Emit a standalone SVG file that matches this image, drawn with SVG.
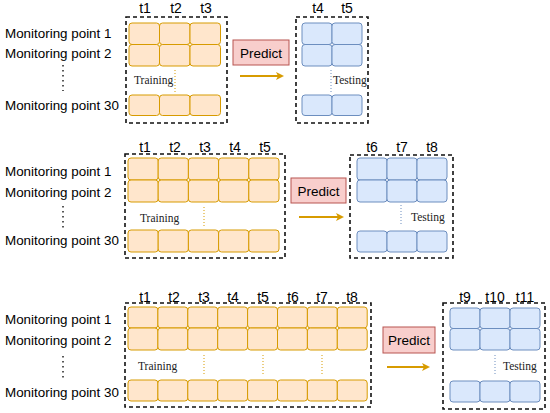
<svg xmlns="http://www.w3.org/2000/svg" width="550" height="413" viewBox="0 0 550 413">
<style>
.lbl{font-family:"Liberation Sans",Arial,sans-serif;font-size:13.4px;fill:#000}
.t{font-family:"Liberation Sans",Arial,sans-serif;font-size:14px;fill:#000;text-anchor:middle}
.ser{font-family:"Liberation Serif","Times New Roman",serif;font-size:11.5px;fill:#222}
.o{fill:#ffe6cc;stroke:#d79b00;stroke-width:1}
.b{fill:#dae8fc;stroke:#6c8ebf;stroke-width:1}
.box{fill:none;stroke:#111;stroke-width:1.6;stroke-dasharray:4 3}
.pred{fill:#f8cecc;stroke:#b85450;stroke-width:1}
.ptxt{font-family:"Liberation Sans",Arial,sans-serif;font-size:13.5px;fill:#000;text-anchor:middle}
.vd{stroke:#222;stroke-width:1.5;stroke-dasharray:1.5 3.5}
.od{stroke:#d79b00;stroke-width:1;stroke-dasharray:1 2}
.bd{stroke:#6c8ebf;stroke-width:1;stroke-dasharray:1 2}
.arr{stroke:#d79b00;stroke-width:2;fill:none}
</style>
<defs>
<marker id="ah" markerWidth="8" markerHeight="8" refX="6" refY="4" orient="auto" markerUnits="userSpaceOnUse">
<path d="M0,0 L8,4 L0,8 L2,4 Z" fill="#d79b00"/>
</marker>
</defs>

<!-- Panel 1 -->
<g id="labels1">
<text class="lbl" x="5" y="38">Monitoring point 1</text>
<text class="lbl" x="5" y="58">Monitoring point 2</text>
<line class="vd" x1="63" y1="65" x2="63" y2="91"/>
<text class="lbl" x="5" y="110">Monitoring point 30</text>
</g>
<g id="train1">
<rect class="box" x="126" y="17" width="101" height="106"/>
<text class="t" x="145" y="13">t1</text><text class="t" x="176" y="13">t2</text><text class="t" x="206" y="13">t3</text>
<rect class="o" x="129" y="23" width="30.5" height="21.5" rx="3"/><rect class="o" x="159.5" y="23" width="30.5" height="21.5" rx="3"/><rect class="o" x="190" y="23" width="30.5" height="21.5" rx="3"/>
<rect class="o" x="129" y="44.5" width="30.5" height="21.5" rx="3"/><rect class="o" x="159.5" y="44.5" width="30.5" height="21.5" rx="3"/><rect class="o" x="190" y="44.5" width="30.5" height="21.5" rx="3"/>
<rect class="o" x="129" y="95" width="30.5" height="20.5" rx="3"/><rect class="o" x="159.5" y="95" width="30.5" height="20.5" rx="3"/><rect class="o" x="190" y="95" width="30.5" height="20.5" rx="3"/>
<text class="ser" x="134" y="84">Training</text>
<line class="od" x1="175" y1="70" x2="175" y2="92"/>
</g>
<g id="predict1">
<rect class="pred" x="233" y="40" width="56" height="25"/>
<text class="ptxt" x="261" y="57.5">Predict</text>
</g>
<g id="test1">
<rect class="box" x="296" y="17" width="72" height="106"/>
<text class="t" x="318" y="13">t4</text><text class="t" x="347" y="13">t5</text>
<rect class="b" x="302" y="23" width="30" height="21.5" rx="3"/><rect class="b" x="332" y="23" width="30" height="21.5" rx="3"/>
<rect class="b" x="302" y="44.5" width="30" height="21.5" rx="3"/><rect class="b" x="332" y="44.5" width="30" height="21.5" rx="3"/>
<rect class="b" x="302" y="95" width="30" height="20.5" rx="3"/><rect class="b" x="332" y="95" width="30" height="20.5" rx="3"/>
<text class="ser" x="333" y="84">Testing</text>
<line class="bd" x1="331" y1="70" x2="331" y2="92"/>
</g>

<!-- Panel 2 -->
<g id="labels2">
<text class="lbl" x="5" y="176">Monitoring point 1</text>
<text class="lbl" x="5" y="197">Monitoring point 2</text>
<line class="vd" x1="63" y1="206" x2="63" y2="229"/>
<text class="lbl" x="5" y="245">Monitoring point 30</text>
</g>
<g id="train2">
<rect class="box" x="125" y="154" width="160" height="104"/>
<text class="t" x="145" y="152">t1</text><text class="t" x="175" y="152">t2</text><text class="t" x="205" y="152">t3</text><text class="t" x="235" y="152">t4</text><text class="t" x="265" y="152">t5</text>
<rect class="o" x="128" y="158" width="30.2" height="22" rx="3"/><rect class="o" x="158.2" y="158" width="30.2" height="22" rx="3"/><rect class="o" x="188.4" y="158" width="30.2" height="22" rx="3"/><rect class="o" x="218.6" y="158" width="30.2" height="22" rx="3"/><rect class="o" x="248.8" y="158" width="30.2" height="22" rx="3"/>
<rect class="o" x="128" y="180" width="30.2" height="22" rx="3"/><rect class="o" x="158.2" y="180" width="30.2" height="22" rx="3"/><rect class="o" x="188.4" y="180" width="30.2" height="22" rx="3"/><rect class="o" x="218.6" y="180" width="30.2" height="22" rx="3"/><rect class="o" x="248.8" y="180" width="30.2" height="22" rx="3"/>
<rect class="o" x="128" y="230" width="30.2" height="22" rx="3"/><rect class="o" x="158.2" y="230" width="30.2" height="22" rx="3"/><rect class="o" x="188.4" y="230" width="30.2" height="22" rx="3"/><rect class="o" x="218.6" y="230" width="30.2" height="22" rx="3"/><rect class="o" x="248.8" y="230" width="30.2" height="22" rx="3"/>
<text class="ser" x="140" y="222">Training</text>
<line class="od" x1="204" y1="207" x2="204" y2="228"/>
</g>
<g id="predict2">
<rect class="pred" x="291" y="178" width="55" height="25"/>
<text class="ptxt" x="318.5" y="195.5">Predict</text>
</g>
<g id="test2">
<rect class="box" x="350" y="155" width="103" height="103"/>
<text class="t" x="372" y="152">t6</text><text class="t" x="402" y="152">t7</text><text class="t" x="432" y="152">t8</text>
<rect class="b" x="357" y="158" width="30" height="22" rx="3"/><rect class="b" x="387" y="158" width="30" height="22" rx="3"/><rect class="b" x="417" y="158" width="30" height="22" rx="3"/>
<rect class="b" x="357" y="180" width="30" height="22" rx="3"/><rect class="b" x="387" y="180" width="30" height="22" rx="3"/><rect class="b" x="417" y="180" width="30" height="22" rx="3"/>
<rect class="b" x="357" y="231" width="30" height="21" rx="3"/><rect class="b" x="387" y="231" width="30" height="21" rx="3"/><rect class="b" x="417" y="231" width="30" height="21" rx="3"/>
<text class="ser" x="411" y="221">Testing</text>
<line class="bd" x1="401" y1="205" x2="401" y2="226"/>
</g>

<!-- Panel 3 -->
<g id="labels3">
<text class="lbl" x="5" y="324">Monitoring point 1</text>
<text class="lbl" x="5" y="345">Monitoring point 2</text>
<line class="vd" x1="63" y1="356" x2="63" y2="379"/>
<text class="lbl" x="5" y="397">Monitoring point 30</text>
</g>
<g id="train3">
<rect class="box" x="125" y="303" width="246" height="104"/>
<text class="t" x="145" y="302">t1</text><text class="t" x="174" y="302">t2</text><text class="t" x="204" y="302">t3</text><text class="t" x="233" y="302">t4</text><text class="t" x="263" y="302">t5</text><text class="t" x="293" y="302">t6</text><text class="t" x="322" y="302">t7</text><text class="t" x="352" y="302">t8</text>
<rect class="o" x="128" y="307" width="29.9" height="21" rx="3"/><rect class="o" x="157.9" y="307" width="29.9" height="21" rx="3"/><rect class="o" x="187.8" y="307" width="29.9" height="21" rx="3"/><rect class="o" x="217.7" y="307" width="29.9" height="21" rx="3"/><rect class="o" x="247.6" y="307" width="29.9" height="21" rx="3"/><rect class="o" x="277.5" y="307" width="29.9" height="21" rx="3"/><rect class="o" x="307.4" y="307" width="29.9" height="21" rx="3"/><rect class="o" x="337.3" y="307" width="29.9" height="21" rx="3"/>
<rect class="o" x="128" y="328" width="29.9" height="22" rx="3"/><rect class="o" x="157.9" y="328" width="29.9" height="22" rx="3"/><rect class="o" x="187.8" y="328" width="29.9" height="22" rx="3"/><rect class="o" x="217.7" y="328" width="29.9" height="22" rx="3"/><rect class="o" x="247.6" y="328" width="29.9" height="22" rx="3"/><rect class="o" x="277.5" y="328" width="29.9" height="22" rx="3"/><rect class="o" x="307.4" y="328" width="29.9" height="22" rx="3"/><rect class="o" x="337.3" y="328" width="29.9" height="22" rx="3"/>
<rect class="o" x="128" y="380" width="29.9" height="21" rx="3"/><rect class="o" x="157.9" y="380" width="29.9" height="21" rx="3"/><rect class="o" x="187.8" y="380" width="29.9" height="21" rx="3"/><rect class="o" x="217.7" y="380" width="29.9" height="21" rx="3"/><rect class="o" x="247.6" y="380" width="29.9" height="21" rx="3"/><rect class="o" x="277.5" y="380" width="29.9" height="21" rx="3"/><rect class="o" x="307.4" y="380" width="29.9" height="21" rx="3"/><rect class="o" x="337.3" y="380" width="29.9" height="21" rx="3"/>
<text class="ser" x="138" y="370">Training</text>
<line class="od" x1="204" y1="355" x2="204" y2="375"/>
<line class="od" x1="263" y1="355" x2="263" y2="375"/>
<line class="od" x1="322" y1="355" x2="322" y2="375"/>
</g>
<g id="predict3">
<rect class="pred" x="383" y="327" width="52" height="26"/>
<text class="ptxt" x="409" y="345">Predict</text>
</g>
<g id="test3">
<rect class="box" x="443" y="303" width="102" height="106"/>
<text class="t" x="465" y="302">t9</text><text class="t" x="495" y="302">t10</text><text class="t" x="525" y="302">t11</text>
<rect class="b" x="450" y="308" width="30" height="20.5" rx="3"/><rect class="b" x="480" y="308" width="30" height="20.5" rx="3"/><rect class="b" x="510" y="308" width="30" height="20.5" rx="3"/>
<rect class="b" x="450" y="328.5" width="30" height="21.5" rx="3"/><rect class="b" x="480" y="328.5" width="30" height="21.5" rx="3"/><rect class="b" x="510" y="328.5" width="30" height="21.5" rx="3"/>
<rect class="b" x="450" y="381" width="30" height="21" rx="3"/><rect class="b" x="480" y="381" width="30" height="21" rx="3"/><rect class="b" x="510" y="381" width="30" height="21" rx="3"/>
<text class="ser" x="503" y="370">Testing</text>
<line class="bd" x1="495" y1="355" x2="495" y2="375"/>
</g>

<g id="connectors">
<line class="arr" x1="240" y1="76" x2="282" y2="76" marker-end="url(#ah)"/>
<line class="arr" x1="299" y1="217" x2="342" y2="217" marker-end="url(#ah)"/>
<line class="arr" x1="387" y1="367" x2="428" y2="367" marker-end="url(#ah)"/>
</g>
</svg>
